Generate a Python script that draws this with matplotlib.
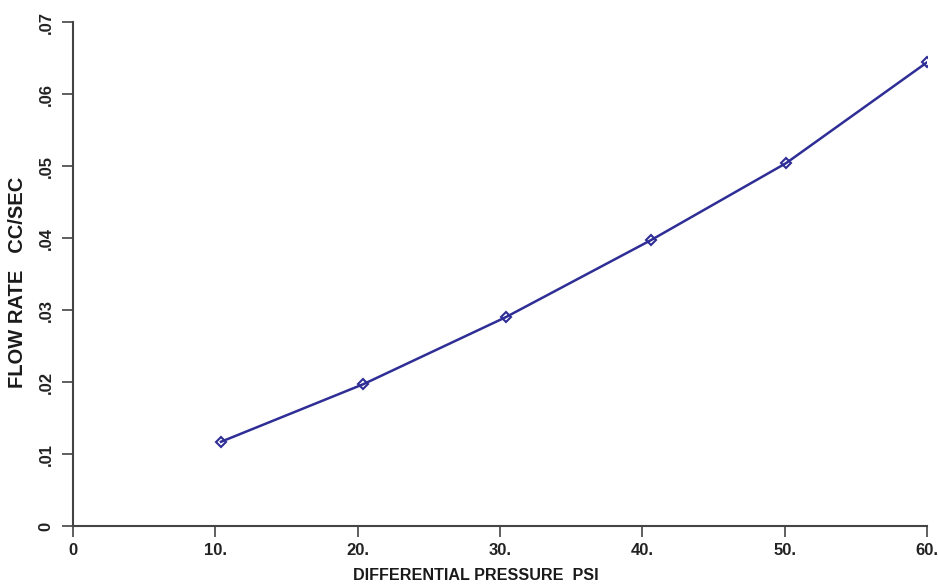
import matplotlib
matplotlib.use('Agg')
import matplotlib.pyplot as plt

# values
pressure = [10.4, 20.4, 30.4, 40.6, 50.1, 60.0]
flow_rate = [0.0117, 0.0197, 0.0290, 0.0397, 0.0504, 0.0644]

x_ticks = [0, 10, 20, 30, 40, 50, 60]
x_tick_labels = ['0', '10.', '20.', '30.', '40.', '50.', '60.']
y_ticks = [0, 0.01, 0.02, 0.03, 0.04, 0.05, 0.06, 0.07]
y_tick_labels = ['0', '.01', '.02', '.03', '.04', '.05', '.06', '.07']

plt.rcParams['font.family'] = ['Liberation Sans', 'DejaVu Sans']

fig = plt.figure(figsize=(9.38, 5.84), dpi=100)
ax = fig.add_axes([0.0778, 0.0993, 0.9105, 0.863])

line_col = '#2e2e96'
ax.plot(pressure, flow_rate, color=line_col, lw=1.8, marker='D', ms=5.5,
        mfc='none', mec=line_col, mew=1.5)

ax.set_xlim(0, 60)
ax.set_ylim(0, 0.07)
ax.set_xticks(x_ticks)
ax.set_xticklabels(x_tick_labels, fontsize=12, fontweight='bold', color='#222222')
ax.set_yticks(y_ticks)
ax.set_yticklabels(y_tick_labels, fontsize=12, fontweight='bold', color='#222222',
                   rotation=90, va='center')

for s in ['top', 'right']:
    ax.spines[s].set_visible(False)
for s in ['left', 'bottom']:
    ax.spines[s].set_color('#444444')
    ax.spines[s].set_linewidth(1.5)

ax.tick_params(axis='both', direction='out', length=8, width=1.2, color='#444444')
ax.tick_params(axis='x', pad=4)
ax.tick_params(axis='y', pad=6)

fig.text(476 / 938, 1 - 575 / 584, 'DIFFERENTIAL PRESSURE  PSI', fontsize=11.6,
         fontweight='bold', color='#1a1a1a', ha='center', va='center')
fig.text(18 / 938, 1 - 282 / 584, 'FLOW RATE   CC/SEC', fontsize=14.5,
         fontweight='bold', color='#1a1a1a', rotation=90, ha='center', va='center')

fig.savefig('out.png', dpi=100)
